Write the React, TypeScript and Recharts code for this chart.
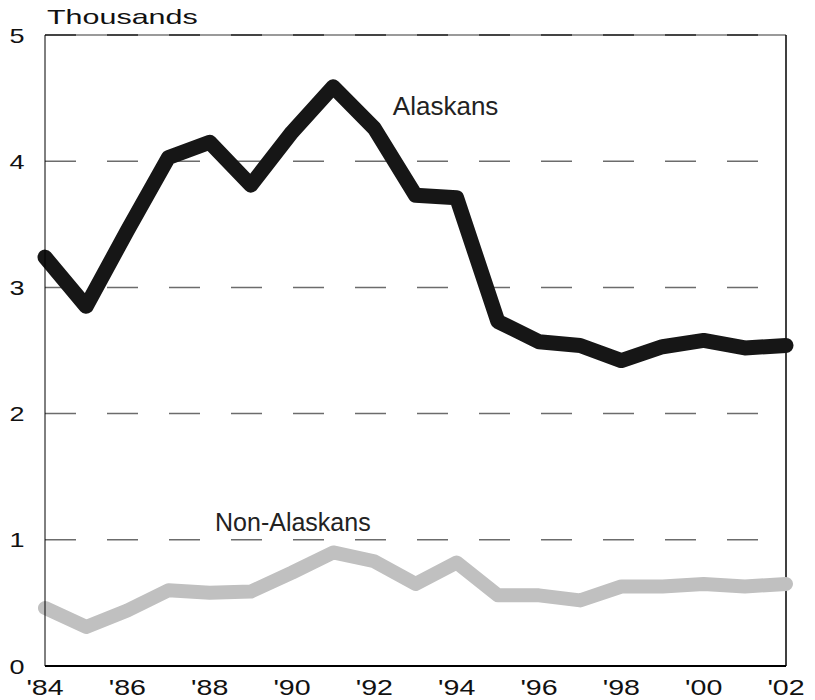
import React from 'react';
import { LineChart, Line, XAxis, YAxis, CartesianGrid, ReferenceLine, ReferenceDot } from 'recharts';

const years = [1984, 1985, 1986, 1987, 1988, 1989, 1990, 1991, 1992, 1993, 1994, 1995, 1996, 1997, 1998, 1999, 2000, 2001, 2002];
const alaskans = [3.24, 2.85, 3.45, 4.03, 4.15, 3.81, 4.23, 4.59, 4.26, 3.73, 3.71, 2.73, 2.57, 2.54, 2.42, 2.53, 2.58, 2.52, 2.54];
const nonAlaskans = [0.46, 0.31, 0.44, 0.6, 0.58, 0.59, 0.74, 0.9, 0.83, 0.65, 0.82, 0.56, 0.56, 0.52, 0.63, 0.63, 0.65, 0.63, 0.65];
const xTicks = [1984, 1986, 1988, 1990, 1992, 1994, 1996, 1998, 2000, 2002];
const yTicks = [0, 1, 2, 3, 4, 5];

const data = years.map((year, i) => ({ year, alaskans: alaskans[i], nonAlaskans: nonAlaskans[i] }));

const FONT = '"Liberation Sans", Arial, sans-serif';

const yearLabel = (y: number) => "'" + String(y).slice(2);

const XTick = (props: any) => {
  const { x, y, payload } = props;
  return (
    <g transform={`translate(${x},${y})`}>
      <text transform="scale(1.3,1)" textAnchor="middle" dy={29} fontSize={22} fontFamily={FONT} fill="#111">
        {yearLabel(payload.value)}
      </text>
    </g>
  );
};

const YTick = (props: any) => {
  const { y, payload } = props;
  return (
    <g transform={`translate(17,${y})`}>
      <text transform="scale(1.35,1)" textAnchor="middle" dy={7.5} fontSize={20} fontFamily={FONT} fill="#111">
        {payload.value}
      </text>
    </g>
  );
};

const seriesLabel = (text: string, size: number) => (p: any) => (
  <text x={p.cx} y={p.cy} fontSize={size} fontFamily={FONT} fill="#222">
    {text}
  </text>
);

export default function App() {
  return (
    <div style={{ position: 'absolute', left: 0, top: 0, width: 815, height: 700, background: '#fff' }}>
      <div
        style={{
          position: 'absolute',
          left: 47,
          top: 5,
          fontFamily: FONT,
          fontSize: 21,
          color: '#111',
          transform: 'scaleX(1.45)',
          transformOrigin: 'left top',
          lineHeight: '24px',
        }}
      >
        Thousands
      </div>
      <LineChart width={815} height={700} data={data} margin={{ top: 35, right: 29, left: 0, bottom: 0 }}>
        <CartesianGrid vertical={false} horizontal strokeDasharray="31 31" stroke="#6c6c6c" strokeWidth={1.5} />
        <XAxis
          dataKey="year"
          type="number"
          domain={[1984, 2002]}
          ticks={xTicks}
          height={34}
          tickLine={false}
          tickSize={0}
          tickMargin={0}
          axisLine={{ stroke: '#000', strokeWidth: 2 }}
          tick={<XTick />}
        />
        <YAxis
          type="number"
          domain={[0, 5]}
          ticks={yTicks}
          width={45}
          tickLine={false}
          axisLine={{ stroke: '#000', strokeWidth: 1 }}
          tick={<YTick />}
        />
        <ReferenceLine y={5} stroke="#9a9a9a" strokeWidth={2} />
        <ReferenceLine y={5} stroke="#444" strokeWidth={2} strokeDasharray="31 31" />
        <ReferenceLine x={2002} stroke="#000" strokeWidth={1.5} />
        <ReferenceDot x={1992.45} y={4.37} r={0} shape={seriesLabel('Alaskans', 26)} />
        <ReferenceDot x={1988.13} y={1.07} r={0} shape={seriesLabel('Non-Alaskans', 25)} />
        <Line
          type="linear"
          dataKey="nonAlaskans"
          stroke="#c0c0c0"
          strokeWidth={14}
          strokeLinecap="round"
          strokeLinejoin="round"
          dot={false}
          isAnimationActive={false}
        />
        <Line
          type="linear"
          dataKey="alaskans"
          stroke="#161616"
          strokeWidth={15}
          strokeLinecap="round"
          strokeLinejoin="round"
          dot={false}
          isAnimationActive={false}
        />
      </LineChart>
    </div>
  );
}
